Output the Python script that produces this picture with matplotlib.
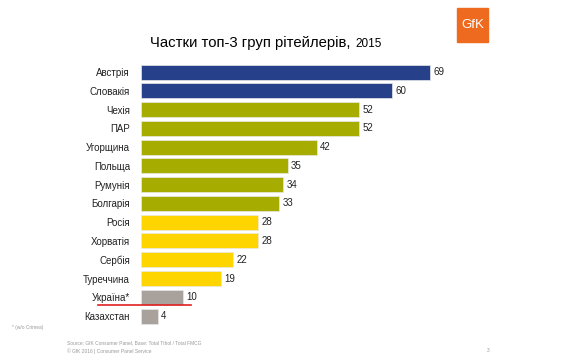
import matplotlib
matplotlib.use("Agg")
import matplotlib.pyplot as plt
from matplotlib.patches import Rectangle

plt.rcParams['font.family'] = ['Liberation Sans', 'DejaVu Sans']

countries = ["Австрія", "Словакія", "Чехія", "ПАР", "Угорщина", "Польща", "Румунія",
             "Болгарія", "Росія", "Хорватія", "Сербія", "Туреччина", "Україна*", "Казахстан"]
shares = [69, 60, 52, 52, 42, 35, 34, 33, 28, 28, 22, 19, 10, 4]
groups = ["top", "top", "mid", "mid", "mid", "mid", "mid", "mid",
          "low", "low", "low", "low", "ua", "ua"]
palette = {"top": "#26418a", "mid": "#a6ad00", "low": "#ffd500", "ua": "#a8a19c"}

fig = plt.figure(figsize=(5.62, 3.6), dpi=100)
ax = fig.add_axes([141 / 562, 0.096, 335 / 562, 0.73])

ypos = list(range(len(countries)))
cols = [palette[g] for g in groups]
ax.barh(ypos, shares, height=0.8, color=cols, edgecolor="#e8e8e8", linewidth=0.5)
for y, v in zip(ypos, shares):
    ax.text(v + 0.8, y, str(v), va="center", ha="left", fontsize=7, color="#222222")

ax.set_xlim(0, 80)
ax.set_ylim(len(countries) - 0.5, -0.5)
ax.set_yticks(ypos)
ax.set_yticklabels(countries, fontsize=7, color="#222222")
ax.tick_params(axis="y", length=0, pad=8)
ax.set_xticks([])
for s in ax.spines.values():
    s.set_visible(False)

# red underline for Ukraine
ui = countries.index("Україна*")
ax.plot([-10.3, shares[ui] + 1.9], [ui + 0.43, ui + 0.43], color="#e02020", lw=1.2, clip_on=False)

fig.text(355 / 562, 0.88, "Частки топ-3 груп рітейлерів, ", ha="right", va="center", fontsize=10.7)
fig.text(355 / 562, 0.877, "2015", ha="left", va="center", fontsize=8.5)

# logo
fig.patches.append(Rectangle((457 / 562, 1 - 42 / 360), 31 / 562, 34 / 360,
                             transform=fig.transFigure, color="#ee6a1e"))
fig.text(472.5 / 562, 1 - 25 / 360, "GfK", ha="center", va="center", fontsize=9.5, color="white")

fig.text(12 / 562, 1 - 328 / 360, "* (w/o Crimea)", fontsize=3.5, color="#999999", va="center")
fig.text(67 / 562, 1 - 343 / 360, "Source: GfK Consumer Panel, Base: Total Tthol / Total FMCG",
         fontsize=3.5, color="#999999", va="center")
fig.text(67 / 562, 1 - 351 / 360, "© GfK 2016 | Consumer Panel Service",
         fontsize=3.5, color="#999999", va="center")
fig.text(487 / 562, 1 - 351 / 360, "3", fontsize=3.5, color="#999999", va="center")

fig.savefig("out.png", dpi=100)
